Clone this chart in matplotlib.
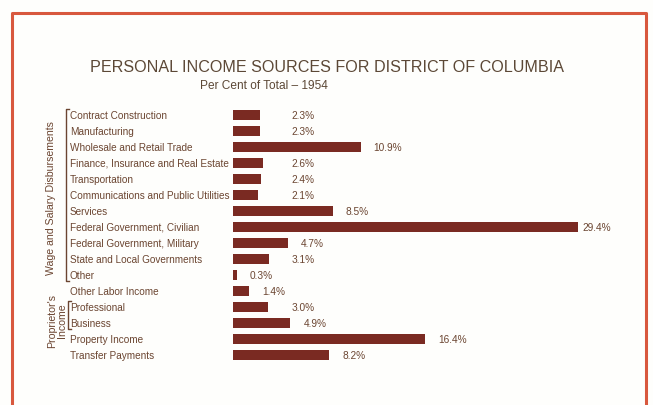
import numpy as np
import matplotlib
matplotlib.use("Agg")
import matplotlib.pyplot as plt
from matplotlib.transforms import blended_transform_factory
from matplotlib.lines import Line2D

plt.rcParams.update({
    "font.family": ["Liberation Sans", "DejaVu Sans"],
})

# Data (per cent of total personal income, 1954)
categories = [
    "Contract Construction",
    "Manufacturing",
    "Wholesale and Retail Trade",
    "Finance, Insurance and Real Estate",
    "Transportation",
    "Communications and Public Utilities",
    "Services",
    "Federal Government, Civilian",
    "Federal Government, Military",
    "State and Local Governments",
    "Other",
    "Other Labor Income",
    "Professional",
    "Business",
    "Property Income",
    "Transfer Payments",
]
values = [2.3, 2.3, 10.9, 2.6, 2.4, 2.1, 8.5, 29.4, 4.7, 3.1, 0.3,
          1.4, 3.0, 4.9, 16.4, 8.2]
value_labels = ["2.3%", "2.3%", "10.9%", "2.6%", "2.4%", "2.1%", "8.5%",
                "29.4%", "4.7%", "3.1%", "0.3%", "1.4%", "3.0%", "4.9%",
                "16.4%", "8.2%"]
wage_group = (0, 10)         # first and last row of wage and salary group
proprietor_group = (12, 13)  # professional, business

BAR = "#7a2a22"
TEXT = "#6b4531"
TITLE = "#5c4836"
BORDER = "#d8583e"

W, H = 653, 406
fig = plt.figure(figsize=(W / 100, H / 100), dpi=100)
fig.patch.set_facecolor("#fefefc")


def fx(px):
    return px / W


def fy(py):
    return 1 - py / H


# axes: bars start at x=233px, ~11.73 px per percent, rows every 16 px
n = len(categories)
left_px, right_px = 233, 633
top_px = 108
bot_px = top_px + 16 * n
ax = fig.add_axes([fx(left_px), fy(bot_px), fx(right_px - left_px),
                   (bot_px - top_px) / H])
ax.set_xlim(0, (right_px - left_px) / 11.73)
ax.set_ylim(n - 0.5, -0.5)
ax.axis("off")

y = np.arange(n)
ax.barh(y, values, height=0.68, color=BAR, edgecolor="none")

# value labels
for yi, v, lab in zip(y, values, value_labels):
    xl = v + 1.1
    if v >= 2 and v < 3.5:
        xl = 5.0
    if v > 25:
        xl = v + 0.35
    ax.text(xl, yi, lab, ha="left", va="center", fontsize=7.3, color=TEXT)

# category labels
trans = blended_transform_factory(fig.transFigure, ax.transData)
for yi, c in zip(y, categories):
    ax.text(fx(70), yi, c, transform=trans, ha="left", va="center",
            fontsize=7.2, color=TEXT, clip_on=False)


# brackets
def bracket(x_px, r0, r1):
    ytop = r0 - 0.4
    ybot = r1 + 0.4
    xs = [fx(x_px + 3), fx(x_px), fx(x_px), fx(x_px + 3)]
    ys = [ytop, ytop, ybot, ybot]
    ax.add_line(Line2D(xs, ys, transform=trans, color=TEXT, lw=1.0,
                       clip_on=False))


bracket(66, *wage_group)
bracket(68, *proprietor_group)

ax.text(fx(51), (wage_group[0] + wage_group[1]) / 2 + 0.1,
        "Wage and Salary Disbursements", transform=trans, rotation=90,
        ha="center", va="center", fontsize=7.6, color=TEXT, clip_on=False)
ax.text(fx(57), (proprietor_group[0] + proprietor_group[1]) / 2 + 0.3,
        "Proprietor's\nIncome", transform=trans, rotation=90,
        ha="center", va="center", multialignment="center", linespacing=0.95,
        fontsize=7.6, color=TEXT, clip_on=False)

# titles
fig.text(fx(327), fy(68), "PERSONAL INCOME SOURCES FOR DISTRICT OF COLUMBIA",
         ha="center", va="center", fontsize=11.6, color=TITLE)
fig.text(fx(264), fy(86), "Per Cent of Total \u2013 1954",
         ha="center", va="center", fontsize=8.6, color=TITLE)

# red frame, open at the bottom
fig.add_artist(Line2D([fx(12), fx(12), fx(646), fx(646)],
                      [0, fy(14), fy(14), 0], transform=fig.transFigure,
                      color=BORDER, lw=2.2))

fig.savefig("out.png", dpi=100, facecolor=fig.get_facecolor())
